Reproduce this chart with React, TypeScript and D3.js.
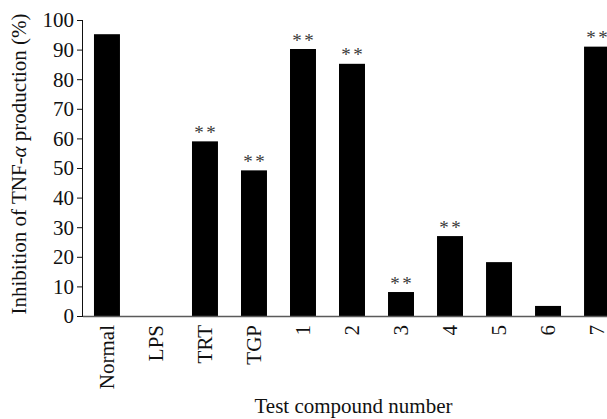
import React from "react";
import * as d3 from "d3";

const categories = ["Normal", "LPS", "TRT", "TGP", "1", "2", "3", "4", "5", "6", "7"];
const inhibition = [95.2, 0, 59, 49.2, 90.2, 85.2, 8.1, 27, 18.2, 3.4, 91];
const significant = [false, false, true, true, true, true, true, true, false, false, true];
const yTicks = [0, 10, 20, 30, 40, 50, 60, 70, 80, 90, 100];

const W = 607;
const H = 419;
const FONT = "'Liberation Serif', 'Times New Roman', serif";

export default function App() {
  const x = d3
    .scaleBand<string>()
    .domain(categories)
    .range([83, 621])
    .paddingInner(0.47)
    .paddingOuter(0.224);
  const y = d3.scaleLinear().domain([0, 100]).range([316, 20]);
  const bw = x.bandwidth();

  return (
    <svg
      width={W}
      height={H}
      style={{ position: "absolute", left: 0, top: 0, background: "#fff" }}
      fontFamily={FONT}
    >
      {/* bars */}
      {categories.map((c, i) => (
        <rect
          key={c}
          x={x(c)!}
          y={y(inhibition[i])}
          width={bw}
          height={y(0) - y(inhibition[i])}
          fill="#000"
        />
      ))}
      {/* significance marks */}
      {categories.map((c, i) =>
        significant[i] ? (
          <g key={"s" + c} fill="#3a3a3a" fontSize={19}>
            <text x={x(c)! + bw / 2 - 6} y={y(inhibition[i]) - 2.5} textAnchor="middle">
              *
            </text>
            <text x={x(c)! + bw / 2 + 6} y={y(inhibition[i]) - 2.5} textAnchor="middle">
              *
            </text>
          </g>
        ) : null
      )}
      {/* x axis */}
      <line x1={83} x2={W} y1={316.5} y2={316.5} stroke="#5a5a5a" strokeWidth={1.5} />
      {/* y axis */}
      <line x1={82.5} x2={82.5} y1={20} y2={317} stroke="#111" strokeWidth={1} />
      {yTicks.map((t) => (
        <g key={t}>
          <line x1={77} x2={83} y1={y(t) + 0.5} y2={y(t) + 0.5} stroke="#111" />
          <text
            x={74}
            y={y(t)}
            dy="0.35em"
            textAnchor="end"
            fontSize={21}
            fill="#111"
          >
            {t}
          </text>
        </g>
      ))}
      {/* x tick labels */}
      {categories.map((c) => (
        <text
          key={"l" + c}
          transform={`translate(${x(c)! + bw / 2},325) rotate(-90)`}
          dy="0.33em"
          textAnchor="end"
          fontSize={21}
          fill="#111"
        >
          {c}
        </text>
      ))}
      {/* axis titles */}
      <text
        transform="translate(26,164) rotate(-90)"
        textAnchor="middle"
        fontSize={21}
        fill="#111"
      >
        Inhibition of TNF-<tspan fontStyle="italic">α</tspan> production (%)
      </text>
      <text x={353.5} y={413} textAnchor="middle" fontSize={21} fill="#111">
        Test compound number
      </text>
    </svg>
  );
}
